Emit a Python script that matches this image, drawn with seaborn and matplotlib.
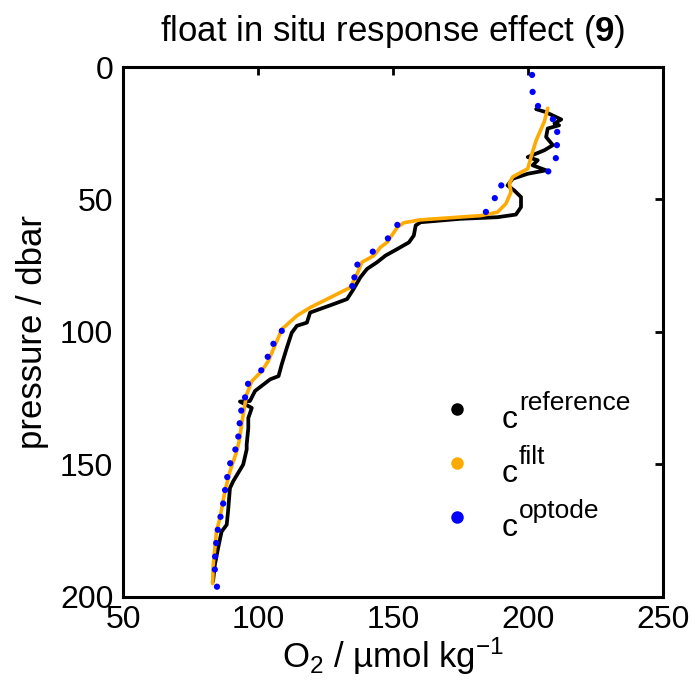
import matplotlib
matplotlib.use("Agg")
import matplotlib.pyplot as plt
import matplotlib.transforms as mtransforms
import seaborn as sns
import pandas as pd
from matplotlib.lines import Line2D

# ---- data ----
ref_o2 = [203.0, 206.5, 212.3, 209.8, 211.5, 207.3, 206.7, 209.2, 206.1, 199.9, 203.6, 201.7,
          206.7, 199.9, 194.3, 192.4, 194.9, 197.4, 197.4, 195.5, 188.7, 175.0, 160.2, 158.4,
          157.7, 155.9, 151.6, 147.2, 144.1, 140.4, 137.9, 135.4, 133.0, 128.0, 119.3, 118.1,
          114.4, 112.5, 110.7, 108.8, 107.6, 104.5, 98.9, 97.0, 93.3, 97.7, 96.4, 96.4, 95.8,
          95.8, 94.5, 90.8, 89.6, 88.9, 88.4, 86.5, 85.2, 84.0, 83.4, 83.2]
ref_p = [15.9, 17.0, 19.8, 21.3, 22.0, 23.2, 26.4, 29.5, 31.4, 34.0, 35.2, 37.1,
         39.0, 40.3, 42.2, 44.7, 46.6, 49.1, 52.9, 55.7, 56.7, 57.3, 58.6, 59.8,
         63.6, 66.2, 68.7, 71.2, 73.7, 76.2, 79.4, 83.8, 87.6, 89.5, 92.7, 96.5,
         97.7, 100.3, 105.9, 112.2, 116.7, 117.9, 122.3, 126.1, 126.3, 128.7, 132.5, 136.3, 142.5,
         144.4, 150.1, 156.4, 159.0, 167.8, 172.8, 175.4, 181.7, 188.0, 193.7, 194.5]

filt_o2 = [207.3, 206.0, 203.0, 201.1, 199.9, 194.3, 193.1, 193.7, 191.8, 188.7, 182.5, 160.2,
           154.0, 151.6, 147.8, 145.4, 142.9, 138.5, 136.7, 134.2, 128.0, 119.3, 114.4, 108.8,
           107.0, 103.8, 101.4, 97.7, 95.8, 94.5, 93.0, 92.1, 89.6, 87.7, 85.9, 84.6, 84.0,
           83.4, 83.2]
filt_p = [15.6, 20.7, 27.7, 34.0, 38.4, 41.5, 44.0, 47.2, 51.6, 54.8, 56.1, 57.7,
          58.8, 60.5, 66.2, 68.0, 71.2, 73.7, 78.1, 83.2, 86.4, 90.8, 93.9, 99.0,
          103.4, 111.0, 114.8, 118.6, 123.6, 131.2, 141.3, 145.1, 152.7, 160.2, 170.3, 175.4, 181.7,
          188.0, 195.0]

opt_o2 = [201.5, 201.7, 203.7, 209.2, 210.8, 210.7, 210.3, 207.5, 190.1, 187.7, 184.4, 151.6,
          148.1, 142.5, 136.8, 135.7, 134.9, 108.8, 105.7, 103.6, 101.2, 96.3, 95.2, 93.8,
          93.2, 92.7, 91.6, 89.7, 88.6, 87.8, 87.1, 86.1, 85.1, 84.5, 84.1, 84.0, 84.8]
opt_p = [3.0, 9.4, 14.7, 19.7, 24.5, 29.5, 34.4, 39.4, 44.7, 49.5, 54.7, 59.6,
         64.7, 69.7, 74.6, 79.4, 82.7, 99.6, 104.5, 109.4, 114.5, 119.6, 124.7, 129.7,
         134.5, 139.5, 144.4, 149.6, 154.8, 159.7, 164.8, 169.8, 174.7, 179.7, 184.8, 189.7, 196.2]

xticks = [50, 100, 150, 200, 250]
yticks = [0, 50, 100, 150, 200]
legend_base = ['c', 'c', 'c']
legend_sup = ['reference', 'filt', 'optode']

# ---- style ----
sns.set_theme(style="white")
plt.rcParams['font.family'] = ['Liberation Sans', 'DejaVu Sans']
plt.rcParams['mathtext.fontset'] = 'custom'
plt.rcParams['mathtext.rm'] = 'Liberation Sans'
plt.rcParams['mathtext.it'] = 'Liberation Sans'
plt.rcParams['mathtext.bf'] = 'Liberation Sans:bold'
plt.rcParams['text.color'] = 'black'
plt.rcParams['axes.labelcolor'] = 'black'

fig = plt.figure(figsize=(6.95, 6.98), dpi=100)
ax = fig.add_axes([0.177, 0.145, 0.777, 0.759])

c_ref = '#000000'
c_filt = '#FFAA00'
c_opt = '#0000FF'

df_ref = pd.DataFrame({'o2': ref_o2, 'p': ref_p})
df_filt = pd.DataFrame({'o2': filt_o2, 'p': filt_p})
df_opt = pd.DataFrame({'o2': opt_o2, 'p': opt_p})

sns.lineplot(data=df_ref, x='o2', y='p', sort=False, estimator=None, color=c_ref,
             lw=2.7, ax=ax, zorder=2)
sns.lineplot(data=df_filt, x='o2', y='p', sort=False, estimator=None, color=c_filt,
             lw=2.6, ax=ax, zorder=3)
sns.scatterplot(data=df_opt, x='o2', y='p', color=c_opt, s=20, edgecolor='none',
                ax=ax, zorder=4)

ax.set_xlim(50, 250)
ax.set_ylim(200, 0)
ax.set_xticks(xticks)
ax.set_yticks(yticks)
ax.set_xticklabels([str(t) for t in xticks])
ax.set_yticklabels([str(t) for t in yticks])
ax.tick_params(direction='in', length=6, width=2, top=True, right=True,
               labelsize=23, colors='black')
ax.tick_params(axis='y', pad=7)
ax.tick_params(axis='x', pad=6)
for s in ax.spines.values():
    s.set_linewidth(2.2)
    s.set_color('black')

ax.set_xlabel(r'O$_2$ / µmol kg$^{-1}$', fontsize=25, labelpad=0)
ax.set_ylabel('pressure / dbar', fontsize=25, labelpad=8)
ax.set_title(r'float in situ response effect ($\mathbf{9}$)', fontsize=25, pad=19)

handles = [Line2D([], [], ls='none', marker='o', ms=9, color=c, mec='none')
           for c in (c_ref, c_filt, c_opt)]
leg = ax.legend(handles, legend_base, loc='upper left', bbox_to_anchor=(0.571, 0.376),
                frameon=False, fontsize=23, handlelength=1.6, handletextpad=0.61,
                labelspacing=0.75, borderpad=0, borderaxespad=0)

# move the base letters slightly below the marker centre, as in the reference
shift = mtransforms.ScaledTranslation(0, -7 / 100, fig.dpi_scale_trans)
for txt in leg.get_texts():
    txt.set_transform(txt.get_transform() + shift)

# superscripts attached to each legend entry
fig.canvas.draw()
renderer = fig.canvas.get_renderer()
inv = fig.transFigure.inverted()
for txt, sup in zip(leg.get_texts(), legend_sup):
    bb = txt.get_window_extent(renderer)
    x0, y0 = inv.transform((bb.x1 + 1, bb.y0 + 7 + 18))
    fig.text(x0, y0, sup, fontsize=19, va='baseline', ha='left', color='black')

fig.savefig('out.png', dpi=100)
